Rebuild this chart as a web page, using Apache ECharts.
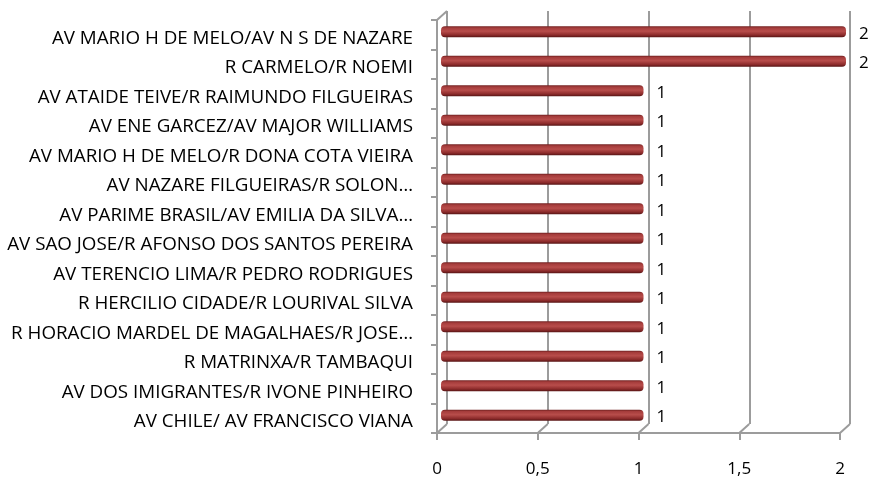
<!DOCTYPE html>
<html>
<head>
<meta charset="utf-8">
<script src="https://cdn.jsdelivr.net/npm/echarts@6/dist/echarts.min.js"></script>
<style>
html,body{margin:0;padding:0;background:#fff;}
#chart{width:871px;height:480px;}
</style>
</head>
<body>
<div id="chart"></div>
<script>
const categories = [
  'AV MARIO H DE MELO/AV N S DE NAZARE',
  'R CARMELO/R NOEMI',
  'AV ATAIDE TEIVE/R RAIMUNDO FILGUEIRAS',
  'AV ENE GARCEZ/AV MAJOR WILLIAMS',
  'AV MARIO H DE MELO/R DONA COTA VIEIRA',
  'AV NAZARE FILGUEIRAS/R SOLON…',
  'AV PARIME BRASIL/AV EMILIA DA SILVA…',
  'AV SAO JOSE/R AFONSO DOS SANTOS PEREIRA',
  'AV TERENCIO LIMA/R PEDRO RODRIGUES',
  'R HERCILIO CIDADE/R LOURIVAL SILVA',
  'R HORACIO MARDEL DE MAGALHAES/R JOSE…',
  'R MATRINXA/R TAMBAQUI',
  'AV DOS IMIGRANTES/R IVONE PINHEIRO',
  'AV CHILE/ AV FRANCISCO VIANA'
];
const values = [2, 2, 1, 1, 1, 1, 1, 1, 1, 1, 1, 1, 1, 1];
const xTicks = [0, 0.5, 1, 1.5, 2];

const FONT = 'Open Sans';
const GRID_COLOR = '#9c9c9c';
const DX = -10, DY = 9; // depth offset from back wall to front plane

const chart = echarts.init(document.getElementById('chart'), null, {renderer: 'canvas'});

function connector(params, api) {
  const p = api.coord([api.value(0), api.value(1)]);
  return {
    type: 'line',
    shape: {x1: p[0], y1: p[1], x2: p[0] + DX, y2: p[1] + DY},
    style: {stroke: GRID_COLOR, lineWidth: 2}
  };
}

const xMin = xTicks[0], xMax = xTicks[xTicks.length - 1], xStep = xTicks[1] - xTicks[0];

chart.setOption({
  animation: false,
  backgroundColor: '#fff',
  grid: [
    {left: 447, top: 11, width: 403, height: 413},   // back wall
    {left: 437, top: 20, width: 403, height: 413},   // front plane
    {left: 441, top: 17, width: 405, height: 413}    // bars (mid depth)
  ],
  xAxis: [
    {gridIndex: 0, type: 'value', min: xMin, max: xMax, interval: xStep,
     axisLine: {show: false}, axisTick: {show: false}, axisLabel: {show: false},
     splitLine: {show: true, lineStyle: {color: GRID_COLOR, width: 2}}},
    {gridIndex: 1, type: 'value', min: xMin, max: xMax, interval: xStep,
     axisLine: {show: true, lineStyle: {color: GRID_COLOR, width: 2}},
     axisTick: {show: true, length: 7, lineStyle: {color: GRID_COLOR, width: 2}},
     axisLabel: {show: true, margin: 28, fontFamily: FONT, fontSize: 17, color: '#000',
       formatter: v => String(v).replace('.', ',')},
     splitLine: {show: false}},
    {gridIndex: 2, type: 'value', min: xMin, max: xMax, show: false}
  ],
  yAxis: [
    {gridIndex: 0, type: 'value', min: 0, max: 1, show: false},
    {gridIndex: 1, type: 'category', data: categories, inverse: true,
     axisLine: {show: true, lineStyle: {color: GRID_COLOR, width: 2}},
     axisTick: {show: true, length: 6, lineStyle: {color: GRID_COLOR, width: 2}},
     axisLabel: {show: true, margin: 24, color: '#000',
       formatter: v => '{a|' + v + '}',
       rich: {a: {fontFamily: FONT, fontSize: 18.8, color: '#000', padding: [7, 0, 0, 0]}}}},
    {gridIndex: 2, type: 'category', data: categories, inverse: true, show: false}
  ],
  series: [
    {type: 'custom', xAxisIndex: 0, yAxisIndex: 0, renderItem: connector, silent: true,
     data: xTicks.map(v => [v, 0]).concat([[xMin, 1]]), z: 1},
    {type: 'bar', xAxisIndex: 2, yAxisIndex: 2, data: values, barWidth: 11, z: 5,
     itemStyle: {
       borderRadius: 4,
       color: new echarts.graphic.LinearGradient(0, 0, 0, 1, [
         {offset: 0, color: '#6e1f1f'},
         {offset: 0.15, color: '#a53c3b'},
         {offset: 0.45, color: '#b84d4b'},
         {offset: 0.8, color: '#8c2b2b'},
         {offset: 1, color: '#561414'}
       ])
     },
     label: {show: true, position: 'right', distance: 13,
       formatter: p => '{a|' + p.value + '}',
       rich: {a: {fontFamily: FONT, fontSize: 17, color: '#000', padding: [4, 0, 0, 0]}}}}
  ]
});
</script>
</body>
</html>
